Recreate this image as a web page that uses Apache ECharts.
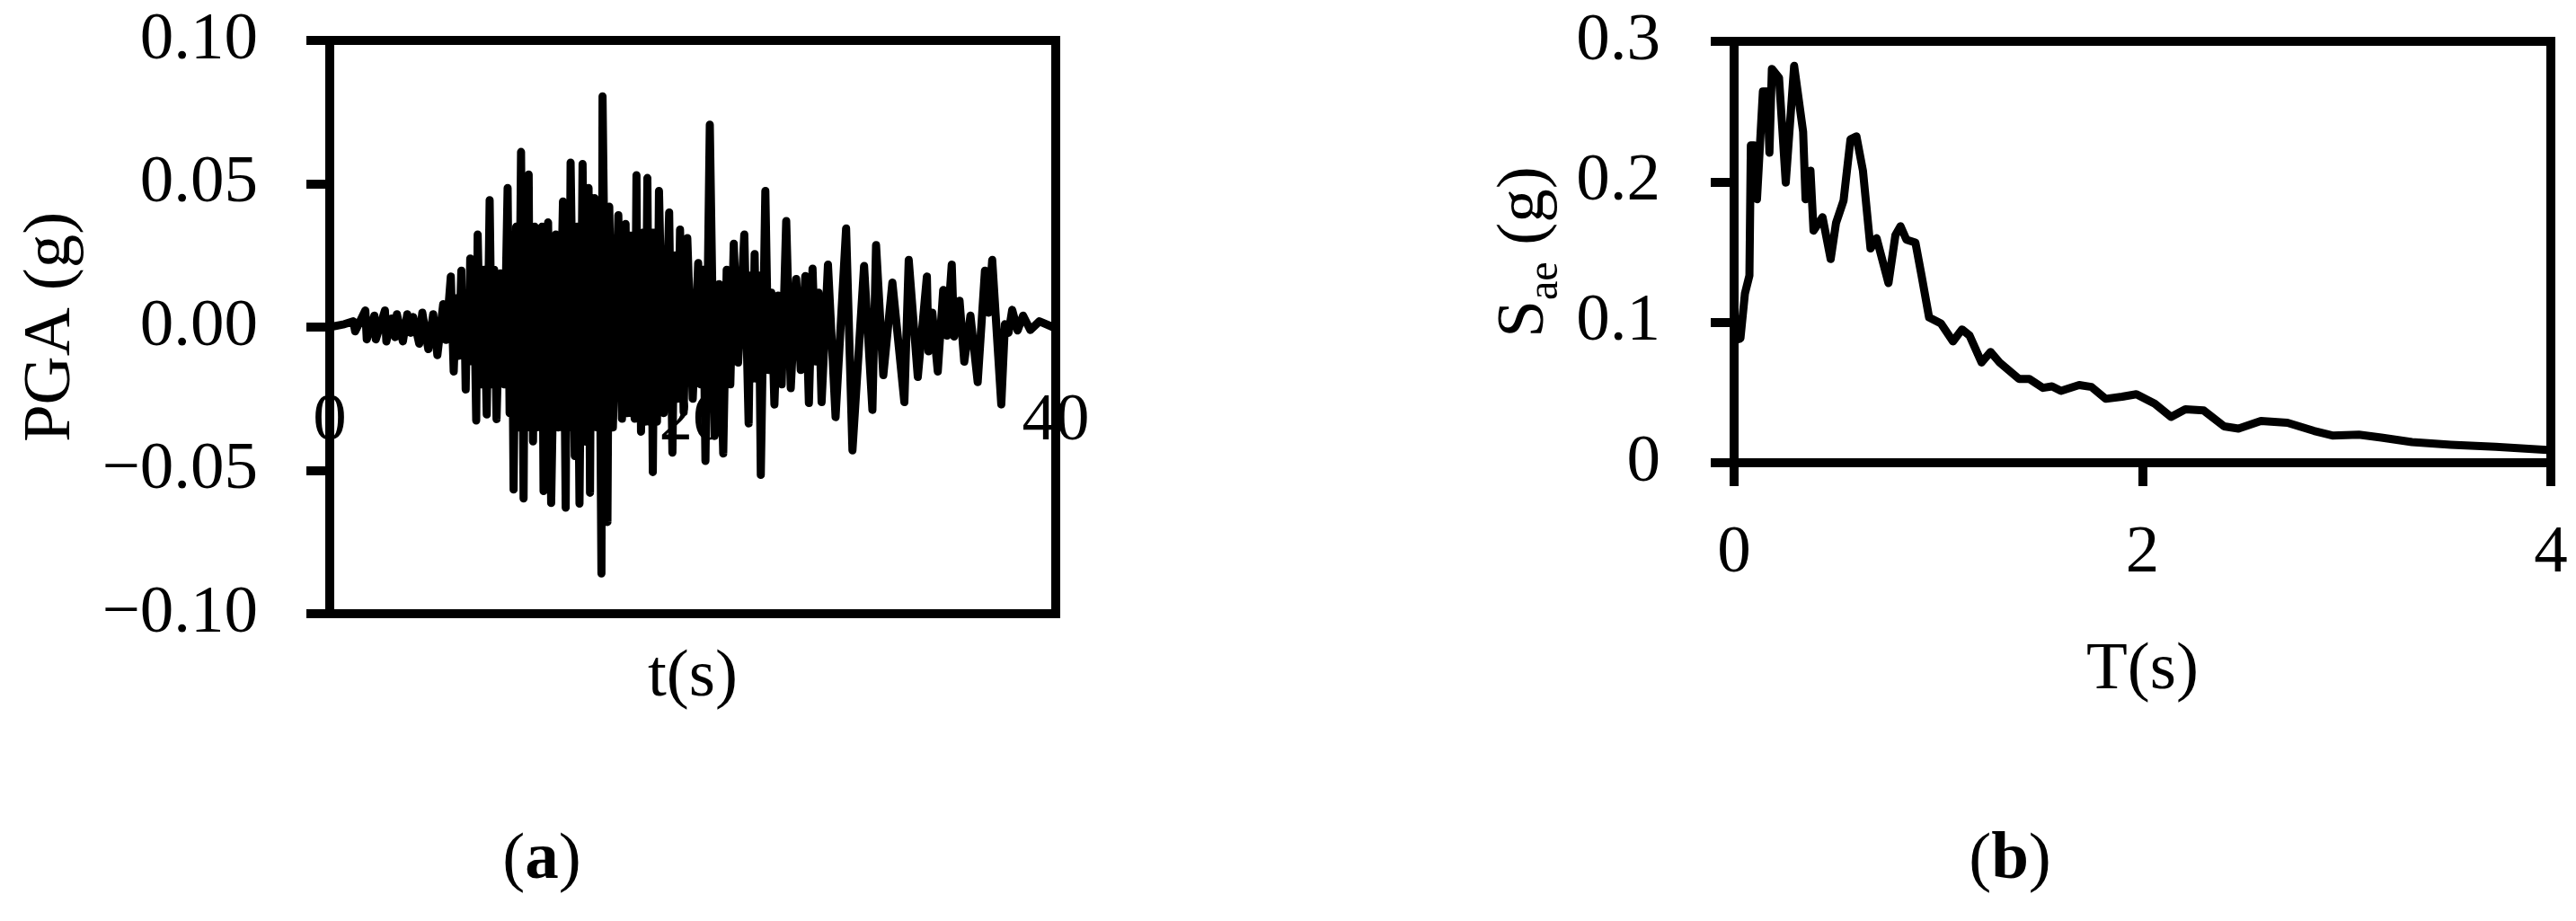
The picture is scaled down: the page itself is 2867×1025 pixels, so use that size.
<!DOCTYPE html>
<html>
<head>
<meta charset="utf-8">
<script src="https://cdn.jsdelivr.net/npm/echarts/dist/echarts.min.js"></script>
<style>
  html, body { margin: 0; padding: 0; background: #fff; }
  #main { width: 2867px; height: 1025px; }
</style>
</head>
<body>
<div id="main"></div>
<script>
// (a) ground motion record (t in s, PGA in g)
var preTime = [0, 0.8, 1.3, 1.4, 1.96, 2.04, 2.46, 2.54, 3.04, 3.12,
  3.4, 3.6, 3.7, 4.03, 4.27, 4.45, 4.6, 4.93, 5.1, 5.43,
  5.7, 5.93];
var preAcc = [0, 0.001, 0.002, -0.0015, 0.0058, -0.0043, 0.004, -0.0043, 0.0058, -0.005,
  0.003, -0.0035, 0.0045, -0.005, 0.0045, -0.002, 0.0035, -0.0058, 0.005, -0.0077,
  0.0045, -0.0098];

var strongTime = [6.25, 6.4, 6.67, 6.83, 6.97, 7.11, 7.25, 7.33, 7.41, 7.49,
  7.57, 7.66, 7.74, 7.85, 7.96, 8.07, 8.15, 8.32, 8.48, 8.65,
  8.81, 8.94, 9.06, 9.19, 9.4, 9.6, 9.8, 9.91, 10.02, 10.13,
  10.27, 10.4, 10.54, 10.68, 10.77, 10.87, 10.96, 11.04, 11.12, 11.2,
  11.3, 11.4, 11.5, 11.6, 11.69, 11.78, 11.86, 11.95, 12.03, 12.2,
  12.45, 12.6, 12.85, 13.0, 13.09, 13.18, 13.27, 13.5, 13.62, 13.76,
  13.93, 14.1, 14.26, 14.34, 14.42, 14.5, 14.59, 14.72, 14.84, 14.97,
  15.03, 15.3, 15.4, 15.6, 15.9, 16.1, 16.3, 16.4, 16.5, 16.6,
  16.7, 16.8, 16.9, 16.98, 17.07, 17.15, 17.27, 17.38, 17.5, 17.6,
  17.7, 17.8, 17.91, 18.03, 18.14, 18.4, 18.7, 18.88, 19.02, 19.16,
  19.3, 19.5, 19.7, 20.0, 20.3, 20.43, 20.57, 20.7, 20.94, 21.2,
  21.45, 21.68, 21.87, 22.07, 22.26, 22.5, 22.84, 23.08, 23.19, 23.3,
  23.41, 23.52, 23.64, 23.75, 24.0, 24.17, 24.33, 24.5, 24.7, 24.9,
  25.15, 25.4, 25.7, 25.95, 26.2, 26.4, 26.6, 26.77, 26.93, 27.1];
var strongAcc = [0.008, -0.0045, 0.0176, -0.0155, 0.01, -0.01, 0.0197, -0.01, 0.01, -0.0218,
  0.01, -0.01, 0.0239, -0.012, 0.012, -0.0326, 0.0323, -0.02, 0.02, -0.0305,
  0.0443, -0.02, 0.02, -0.0321, 0.0187, -0.02, 0.0485, -0.03, 0.03, -0.0567,
  0.035, -0.035, 0.0611, -0.0598, 0.035, -0.035, 0.0532, -0.035, 0.035, -0.0399,
  0.035, -0.035, 0.0262, -0.035, 0.035, -0.0572, 0.035, -0.035, 0.0365, -0.0614,
  0.0323, -0.035, 0.0438, -0.063, 0.035, -0.035, 0.0574, -0.045, 0.035, -0.0616,
  0.0569, -0.04, 0.0485, -0.0578, 0.035, -0.035, 0.045, -0.035, 0.035, -0.086,
  0.0805, -0.068, 0.042, -0.035, 0.039, -0.032, 0.036, -0.03, 0.032, -0.03,
  0.032, -0.032, 0.053, -0.032, 0.032, -0.0365, 0.033, -0.033, 0.052, -0.033,
  0.033, -0.0506, 0.033, -0.033, 0.0475, -0.03, 0.04, -0.0438, 0.025, -0.025,
  0.034, -0.0297, 0.031, -0.025, 0.0223, -0.02, 0.02, -0.0467, 0.0706, -0.038,
  0.015, -0.0441, 0.02, -0.02, 0.0291, -0.0124, 0.0323, -0.0336, 0.018, -0.018,
  0.0255, -0.018, 0.018, -0.0516, 0.0475, -0.015, 0.012, -0.027, 0.011, -0.02,
  0.037, -0.0213, 0.0168, -0.015, 0.0178, -0.0265, 0.0204, -0.012, 0.012, -0.0262];

var tailTime = [27.45, 27.87, 28.45, 28.8, 29.44, 29.9, 30.1, 30.5, 31.0, 31.66,
  31.9, 32.4, 32.9, 32.99, 33.2, 33.5, 33.8, 34.0, 34.27, 34.4,
  34.7, 34.96, 35.3, 35.7, 36.1, 36.3, 36.5, 37.0, 37.2, 37.4,
  37.6, 37.9, 38.2, 38.6, 39.1, 39.84, 40];
var tailAcc = [0.0218, -0.0314, 0.0344, -0.043, 0.0213, -0.0289, 0.0286, -0.0168, 0.0155, -0.0262,
  0.0234, -0.0174, 0.0176, -0.0085, 0.005, -0.0155, 0.0129, -0.003, 0.0218, -0.0033,
  0.0092, -0.0121, 0.004, -0.0192, 0.0197, 0.005, 0.0234, -0.027, 0.001, -0.002,
  0.006, -0.0012, 0.004, -0.001, 0.002, 0, 0];

// (b) elastic response spectrum (T in s, Sae in g)
var periodB = [0, 0.009, 0.031, 0.053, 0.075, 0.079, 0.082, 0.097, 0.112, 0.141,
  0.163, 0.173, 0.185, 0.22, 0.253, 0.294, 0.338, 0.35, 0.374, 0.389,
  0.433, 0.473, 0.499, 0.536, 0.57, 0.599, 0.631, 0.668, 0.698, 0.756,
  0.79, 0.815, 0.844, 0.888, 0.918, 0.955, 1.013, 1.072, 1.116, 1.153,
  1.212, 1.256, 1.3, 1.395, 1.446, 1.513, 1.557, 1.601, 1.69, 1.75,
  1.82, 1.9, 1.97, 2.06, 2.14, 2.21, 2.3, 2.4, 2.47, 2.58,
  2.71, 2.84, 2.93, 3.06, 3.17, 3.32, 3.51, 3.73, 4.0];
var saeB = [0.097, 0.0874, 0.0885, 0.1205, 0.1333, 0.133, 0.226, 0.226, 0.1876, 0.2644,
  0.2644, 0.2207, 0.2804, 0.274, 0.1994, 0.2825, 0.2356, 0.1876, 0.2079, 0.1652,
  0.1748, 0.145, 0.1706, 0.1866, 0.2303, 0.2324, 0.2079, 0.1525, 0.1599, 0.1279,
  0.162, 0.1684, 0.1588, 0.1567, 0.1333, 0.1034, 0.0991, 0.0864, 0.0949, 0.0906,
  0.0714, 0.0789, 0.0714, 0.0597, 0.0597, 0.0533, 0.0544, 0.0512, 0.0553, 0.054,
  0.0455, 0.047, 0.0488, 0.042, 0.0326, 0.038, 0.0372, 0.0259, 0.0243, 0.0298,
  0.0285, 0.0227, 0.0194, 0.020, 0.0179, 0.0147, 0.0128, 0.0113, 0.009];

var ticksA = [-0.10, -0.05, 0.00, 0.05, 0.10];
var ticksB = [0, 0.1, 0.2, 0.3];

var timeA = preTime.concat(strongTime, tailTime);
var accelA = preAcc.concat(strongAcc, tailAcc);

var FONT = 'Liberation Serif';
var txt = { fontFamily: FONT, fontSize: 75, color: '#000' };
var tickStyle = { show: true, length: 26, lineStyle: { color: '#000', width: 10 } };

// grid (a) in pixels; the time axis is drawn on the zero line
var gridA = { left: 367, top: 45, width: 808, height: 638 };
var zeroOffsetA = -gridA.height / 2;

var myChart = echarts.init(document.getElementById('main'));

myChart.setOption({
  animation: false,
  backgroundColor: '#fff',
  grid: [
    Object.assign({ show: true, borderColor: '#000', borderWidth: 10, outerBoundsMode: 'none' }, gridA),
    { left: 1930, top: 46, width: 909, height: 469, show: true, borderColor: '#000', borderWidth: 10, outerBoundsMode: 'none' }
  ],
  xAxis: [
    {
      gridIndex: 0, type: 'value', min: 0, max: 40, interval: 20,
      position: 'bottom', offset: zeroOffsetA,
      axisLine: { show: false, onZero: false },
      axisTick: { show: false },
      splitLine: { show: false },
      axisLabel: Object.assign({ margin: 68 }, txt),
      name: 't(s)', nameLocation: 'middle', nameGap: 353, nameTextStyle: txt, nameMoveOverlap: false
    },
    {
      gridIndex: 1, type: 'value', min: 0, max: 4, interval: 2,
      axisLine: { show: false },
      axisTick: tickStyle,
      splitLine: { show: false },
      axisLabel: Object.assign({ margin: 64 }, txt),
      name: 'T(s)', nameLocation: 'middle', nameGap: 194, nameTextStyle: txt, nameMoveOverlap: false
    }
  ],
  yAxis: [
    {
      gridIndex: 0, type: 'value', min: ticksA[0], max: ticksA[ticksA.length - 1], interval: 0.05,
      axisLine: { show: false, onZero: false },
      axisTick: tickStyle,
      splitLine: { show: false },
      axisLabel: Object.assign({
        margin: 80,
        formatter: function (v) { return v.toFixed(2).replace('-', '\u2212'); }
      }, txt),
      name: 'PGA (g)', nameLocation: 'middle', nameGap: 272, nameTextStyle: txt, nameMoveOverlap: false
    },
    {
      gridIndex: 1, type: 'value', min: ticksB[0], max: ticksB[ticksB.length - 1], interval: 0.1,
      axisLine: { show: false },
      axisTick: tickStyle,
      splitLine: { show: false },
      axisLabel: Object.assign({ margin: 82 }, txt),
      name: '{s|S}{sub|ae}{s| (g)}', nameLocation: 'middle', nameGap: 195, nameMoveOverlap: false,
      nameTextStyle: {
        fontFamily: FONT, color: '#000',
        rich: {
          s: { fontFamily: FONT, fontSize: 75, lineHeight: 75, color: '#000', verticalAlign: 'top' },
          sub: { fontFamily: FONT, fontSize: 48, lineHeight: 48, color: '#000', verticalAlign: 'top', padding: [36, 0, 0, 0] }
        }
      }
    }
  ],
  graphic: [
    {
      type: 'text', x: 603, y: 958,
      style: {
        text: '{n|(}{b|a}{n|)}', align: 'center', verticalAlign: 'middle',
        rich: { n: { fontFamily: FONT, fontSize: 75, fill: '#000' }, b: { fontFamily: FONT, fontSize: 75, fontWeight: 'bold', fill: '#000' } }
      }
    },
    {
      type: 'text', x: 2237, y: 958,
      style: {
        text: '{n|(}{b|b}{n|)}', align: 'center', verticalAlign: 'middle',
        rich: { n: { fontFamily: FONT, fontSize: 75, fill: '#000' }, b: { fontFamily: FONT, fontSize: 75, fontWeight: 'bold', fill: '#000' } }
      }
    }
  ],
  series: [
    {
      type: 'line', xAxisIndex: 0, yAxisIndex: 0, showSymbol: false, symbol: 'none', z: 5,
      lineStyle: { color: '#000', width: 9, join: 'round', cap: 'round' },
      data: timeA.map(function (t, i) { return [t, accelA[i]]; })
    },
    {
      type: 'line', xAxisIndex: 1, yAxisIndex: 1, showSymbol: false, symbol: 'none',
      lineStyle: { color: '#000', width: 9, join: 'round', cap: 'round' },
      data: periodB.map(function (t, i) { return [t, saeB[i]]; })
    }
  ]
});
</script>
</body>
</html>
